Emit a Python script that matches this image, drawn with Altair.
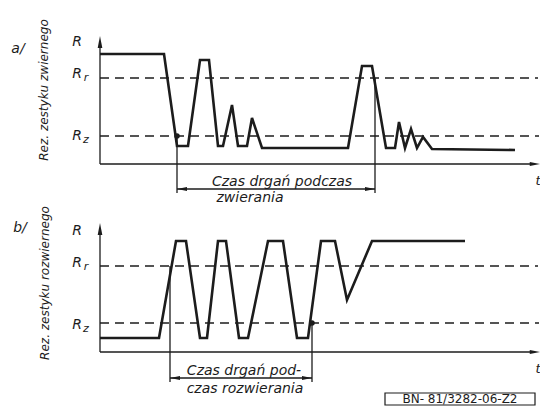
import altair as alt
import pandas as pd

# ---------- data (drawing units: horizontal = time, vertical = resistance level, page-like units) ----------
# panel a/ : closing contact (zwierny)
a_t = [100, 164, 177, 188, 200, 209, 218, 223, 232, 238, 247, 252, 262, 348, 362, 372, 386, 395, 399, 405, 411, 417, 423, 432, 515]
a_r = [54, 54, 146, 146, 60, 60, 146, 146, 105, 146, 146, 118, 148, 148, 66, 66, 148, 148, 122, 148, 129, 148, 137, 149, 150]
# panel b/ : opening contact (rozwierny)
b_t = [100, 159, 176, 186, 200, 207, 218, 226, 239, 248, 268, 283, 297, 308, 321, 335, 347, 372, 465]
b_r = [338, 338, 241, 241, 338, 338, 241, 241, 338, 338, 241, 241, 338, 338, 241, 241, 300, 241, 241]

panels = ["a", "b"]
axis_t0 = [100, 100]
axis_top = [42, 229]
axis_base = [164, 352]
axis_t_end = [535, 535]
level_rr = [78, 266]
level_rz = [136, 323]
dash_end_rr = [538, 538]
dash_end_rz = [539, 539]

# vibration-time dimension lines
dim_start = [177, 170]
dim_end = [375, 312]
dim_from_start = [136, 266]
dim_from_end = [78, 323]
dim_y = [189, 378]
dim_low = [193, 382]

panel_tags = ["a/", "b/"]
panel_tag_y = [49, 228]
side_titles = ["Rez. zestyku zwiernego", "Rez. zestyku rozwiernego"]
side_title_y = [90, 283]
r_label_y = [42, 231]
rr_label_y = [74, 263]
rz_label_y = [136, 325]
dim_text_1 = ["Czas drgań podczas", "Czas drgań pod-"]
dim_text_1_pos = [(282, 182), (244, 371)]
dim_text_2 = ["zwierania", "czas rozwierania"]
dim_text_2_pos = [(250, 198), (245, 389)]
stamp_text = "BN- 81/3282-06-Z2"
stamp_box = (385, 535, 393, 405)

INK = "#1c1c1c"
FONT = "DejaVu Sans"

# ---------- tables ----------
wave = pd.DataFrame(
    [{"x": t, "y": r, "o": i, "p": "a"} for i, (t, r) in enumerate(zip(a_t, a_r))]
    + [{"x": t, "y": r, "o": i, "p": "b"} for i, (t, r) in enumerate(zip(b_t, b_r))]
)

solid = []
dashed = []
arrows = []
for i in range(2):
    solid.append({"x": axis_t0[i], "y": axis_top[i] + 4, "x2": axis_t0[i], "y2": axis_base[i]})
    solid.append({"x": axis_t0[i], "y": axis_base[i], "x2": axis_t_end[i], "y2": axis_base[i]})
    solid.append({"x": dim_start[i], "y": dim_from_start[i], "x2": dim_start[i], "y2": dim_low[i]})
    solid.append({"x": dim_end[i], "y": dim_from_end[i], "x2": dim_end[i], "y2": dim_low[i]})
    solid.append({"x": dim_start[i], "y": dim_y[i], "x2": dim_end[i], "y2": dim_y[i]})
    dashed.append({"x": axis_t0[i], "y": level_rr[i], "x2": dash_end_rr[i], "y2": level_rr[i]})
    dashed.append({"x": axis_t0[i], "y": level_rz[i], "x2": dash_end_rz[i], "y2": level_rz[i]})
    arrows.append({"x": axis_t0[i], "y": axis_top[i], "s": "M0,-1L0.38,1L-0.38,1Z", "z": 150})
    arrows.append({"x": axis_t_end[i], "y": axis_base[i], "s": "M1,0L-1,0.38L-1,-0.38Z", "z": 110})
    arrows.append({"x": dim_start[i] + 5, "y": dim_y[i], "s": "M-1,0L1,-0.38L1,0.38Z", "z": 100})
    arrows.append({"x": dim_end[i] - 5, "y": dim_y[i], "s": "M1,0L-1,0.38L-1,-0.38Z", "z": 100})
solid = pd.DataFrame(solid)
dashed = pd.DataFrame(dashed)
arrows = pd.DataFrame(arrows)
dots = pd.DataFrame({"x": [dim_start[0], dim_end[1]], "y": [dim_from_start[0], dim_from_end[1]]})

r_txt = []
dim_txt = []
sub_txt = []
for i in range(2):
    r_txt += [
        {"x": 77, "y": r_label_y[i], "t": "R"},
        {"x": 77, "y": rr_label_y[i], "t": "R"},
        {"x": 77, "y": rz_label_y[i], "t": "R"},
    ]
    dim_txt += [
        {"x": dim_text_1_pos[i][0], "y": dim_text_1_pos[i][1], "t": dim_text_1[i]},
        {"x": dim_text_2_pos[i][0], "y": dim_text_2_pos[i][1], "t": dim_text_2[i]},
    ]
    sub_txt += [
        {"x": 86, "y": rr_label_y[i] + 4, "t": "r"},
        {"x": 86, "y": rz_label_y[i] + 4, "t": "z"},
    ]
r_txt = pd.DataFrame(r_txt)
dim_txt = pd.DataFrame(dim_txt)
sub_txt = pd.DataFrame(sub_txt)
tags = pd.DataFrame({"x": [18, 20], "y": panel_tag_y, "t": panel_tags})
sides = pd.DataFrame({"x": [44, 45], "y": side_title_y, "t": side_titles})
tmarks = pd.DataFrame({"x": [538, 538], "y": [181, 369], "t": ["t", "t"]})
stamp = pd.DataFrame({"x": [stamp_box[0]], "x2": [stamp_box[1]], "y": [stamp_box[2]], "y2": [stamp_box[3]],
                      "cx": [(stamp_box[0] + stamp_box[1]) / 2], "cy": [(stamp_box[2] + stamp_box[3]) / 2],
                      "t": [stamp_text]})

# ---------- scales (view is 532 x 398, placed at the page's 8px margin) ----------
xs = alt.Scale(domain=[8, 540], nice=False, zero=False)
ys = alt.Scale(domain=[406, 8], nice=False, zero=False)
X = lambda f="x": alt.X(f"{f}:Q", scale=xs, axis=None)
Y = lambda f="y": alt.Y(f"{f}:Q", scale=ys, axis=None)

wave_l = alt.Chart(wave).mark_line(color=INK, strokeWidth=2.6, strokeJoin="miter", interpolate="linear").encode(
    x=X(), y=Y(), detail="p:N", order="o:Q")
solid_l = alt.Chart(solid).mark_rule(color=INK, strokeWidth=1.3).encode(
    x=X(), y=Y(), x2="x2:Q", y2="y2:Q")
dash_l = alt.Chart(dashed).mark_rule(color=INK, strokeWidth=1.6, strokeDash=[9, 6]).encode(
    x=X(), y=Y(), x2="x2:Q", y2="y2:Q")
arrow_l = alt.Chart(arrows).mark_point(filled=True, color=INK, opacity=1).encode(
    x=X(), y=Y(), shape=alt.Shape("s:N", scale=None), size=alt.Size("z:Q", scale=None))
dot_l = alt.Chart(dots).mark_circle(color=INK, size=30, opacity=1).encode(x=X(), y=Y())

r_l = alt.Chart(r_txt).mark_text(font=FONT, fontStyle="italic", fontSize=14, color=INK).encode(
    x=X(), y=Y(), text="t:N")
dim_l = alt.Chart(dim_txt).mark_text(font=FONT, fontStyle="italic", fontSize=14, color=INK).encode(
    x=X(), y=Y(), text="t:N")
sub_l = alt.Chart(sub_txt).mark_text(font=FONT, fontStyle="italic", fontSize=11, color=INK).encode(
    x=X(), y=Y(), text="t:N")
tag_l = alt.Chart(tags).mark_text(font=FONT, fontStyle="italic", fontSize=14, color=INK).encode(
    x=X(), y=Y(), text="t:N")
side_l = alt.Chart(sides).mark_text(font=FONT, fontStyle="italic", fontSize=12, angle=270, color=INK).encode(
    x=X(), y=Y(), text="t:N")
t_l = alt.Chart(tmarks).mark_text(font=FONT, fontStyle="italic", fontSize=13, color=INK).encode(
    x=X(), y=Y(), text="t:N")
box_l = alt.Chart(stamp).mark_rect(fill="white", stroke=INK, strokeWidth=1.2).encode(
    x=X(), y=Y(), x2="x2:Q", y2="y2:Q")
stamp_l = alt.Chart(stamp).mark_text(font=FONT, fontSize=12, color=INK).encode(
    x=X("cx"), y=Y("cy"), text="t:N")

chart = alt.layer(
    dash_l, solid_l, wave_l, arrow_l, dot_l, r_l, dim_l, sub_l, tag_l, side_l, t_l, box_l, stamp_l
).properties(
    width=532, height=398, autosize=alt.AutoSizeParams(type="none"), padding=0, background="white"
).configure_view(stroke=None)

chart.save("out.html", embed_options={"renderer": "svg", "actions": False})
